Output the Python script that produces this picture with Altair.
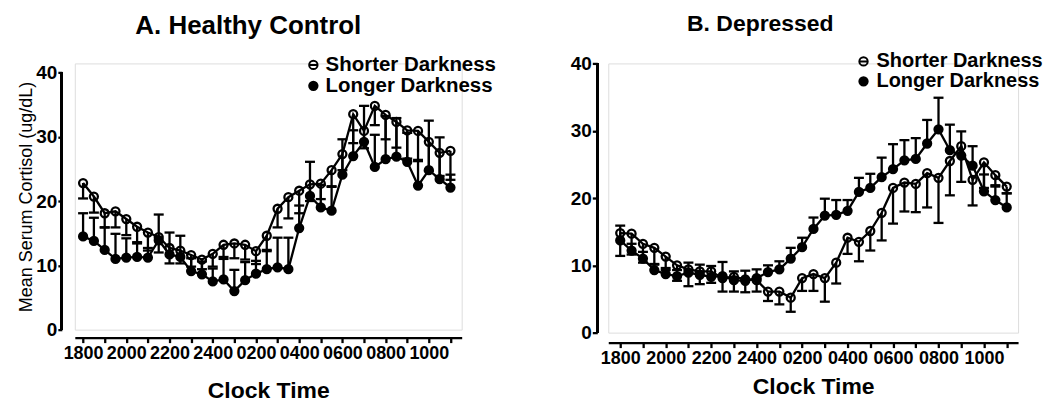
import json
import altair as alt
import pandas as pd

FONT = "Liberation Sans"

# half-hourly sampling times, hours after 18:00
hours = [0.0, 0.5, 1.0, 1.5, 2.0, 2.5, 3.0, 3.5, 4.0, 4.5, 5.0, 5.5, 6.0, 6.5,
         7.0, 7.5, 8.0, 8.5, 9.0, 9.5, 10.0, 10.5, 11.0, 11.5, 12.0, 12.5,
         13.0, 13.5, 14.0, 14.5, 15.0, 15.5, 16.0, 16.5, 17.0]
tick_hours = [0, 1, 2, 3, 4, 5, 6, 7, 8, 9, 10, 11, 12, 13, 14, 15, 16, 17]
tick_labels = ["1800", "2000", "2200", "2400", "0200", "0400", "0600", "0800", "1000"]
y_ticks = [0, 10, 20, 30, 40]
series_names = ["Shorter Darkness", "Longer Darkness"]

# Panel A: Healthy Control
a_short_mean = [22.8, 20.7, 18.1, 18.4, 17.2, 16.0, 15.1, 14.4, 12.7, 12.3, 11.6, 10.9,
                11.8, 13.2, 13.4, 13.2, 12.2, 14.6, 18.8, 20.6, 21.6, 22.6, 22.7, 24.8,
                27.3, 33.5, 30.9, 34.8, 33.4, 32.3, 31.0, 30.9, 29.2, 27.5, 27.8]
a_short_err = [2.4, 2.5, 2.2, 2.5, 2.5, 2.6, 2.8, 2.4, 2.4, 2.0, 1.8, 1.5, 2.0, 2.2,
               2.3, 2.3, 2.0, 2.4, 2.9, 3.3, 3.5, 2.6, 2.4, 2.6, 2.5, 4.5, 2.7, 3.0,
               3.8, 4.0, 4.4, 4.7, 4.5, 3.6, 4.5]
a_long_mean = [14.5, 13.8, 12.4, 11.0, 11.2, 11.3, 11.2, 13.9, 11.7, 11.3, 9.1, 8.6,
               7.5, 7.8, 6.0, 7.7, 8.7, 9.4, 9.7, 9.4, 15.8, 20.8, 19.0, 18.5, 24.1,
               27.0, 29.2, 25.3, 26.5, 26.9, 26.1, 22.4, 24.8, 23.4, 22.1]
a_long_err = [3.6, 3.6, 3.5, 3.9, 3.0, 2.3, 1.5, 4.0, 3.4, 3.3, 2.0, 2.0, 2.0, 3.5,
              3.3, 2.8, 2.0, 3.0, 4.6, 4.9, 3.5, 5.3, 3.5, 3.8, 5.5, 4.0, 5.6, 5.0,
              6.7, 6.0, 4.5, 4.0, 7.7, 6.5, 2.0]

# Panel B: Depressed
b_short_mean = [14.8, 14.7, 13.2, 12.6, 11.3, 10.0, 9.4, 9.1, 9.1, 8.1, 8.3, 7.9, 7.8,
                6.1, 6.1, 5.2, 8.1, 8.7, 8.1, 10.4, 14.1, 13.5, 15.1, 17.8, 21.5, 22.3,
                22.1, 23.7, 23.0, 25.5, 27.7, 22.7, 25.3, 23.4, 21.7]
b_short_err = [3.4, 3.1, 2.8, 2.5, 2.0, 2.3, 2.5, 1.9, 1.7, 2.0, 2.2, 1.9, 1.7, 1.4,
               1.9, 2.1, 1.9, 2.5, 3.5, 3.1, 2.4, 2.9, 2.9, 4.1, 5.3, 4.3, 4.2, 5.1,
               6.7, 5.1, 5.3, 3.8, 3.8, 1.5, 1.0]
b_long_mean = [13.7, 12.2, 11.0, 9.3, 8.7, 8.4, 8.9, 8.6, 8.3, 8.4, 7.8, 7.7, 8.1, 9.0,
               9.4, 11.0, 12.7, 15.4, 17.4, 17.5, 18.1, 20.9, 21.5, 23.1, 24.3, 25.6,
               25.8, 28.1, 30.2, 27.1, 26.3, 24.8, 21.0, 19.7, 18.6]
b_long_err = [2.2, 1.0, 1.0, 0.9, 0.9, 0.9, 1.5, 1.5, 1.6, 2.1, 1.3, 1.5, 1.3, 1.0,
              1.2, 1.6, 1.4, 1.7, 2.5, 2.2, 1.6, 2.1, 2.1, 2.9, 3.7, 3.0, 3.1, 3.5,
              4.7, 3.8, 3.6, 2.9, 2.5, 2.0, 2.1]


def build_df(short_mean, short_err, long_mean, long_err):
    rows = []
    for t, m, e in zip(hours, short_mean, short_err):
        rows.append({"t": t, "mean": m, "end": round(m - e, 2), "series": series_names[0]})
    for t, m, e in zip(hours, long_mean, long_err):
        rows.append({"t": t, "mean": m, "end": round(m + e, 2), "series": series_names[1]})
    return pd.DataFrame(rows)


label_expr = ("datum.value % 2 === 0 ? " + json.dumps(tick_labels) +
              "[datum.value / 2] : ''")

# legend glyph: circle with a horizontal stroke through it (as in the original)
LEGEND_SYMBOL = "M-1,0A1,1,0,1,1,1,0A1,1,0,1,1,-1,0ZM-1,0L1,0"
SW = 2.3


def panel(df, p):
    x_axis = alt.Axis(values=tick_hours, labelExpr=label_expr, title="Clock Time",
                      offset=p["xoff"], domainColor="black", domainWidth=SW,
                      tickColor="black", tickWidth=SW, tickSize=5,
                      labelFont=FONT, labelFontWeight="bold", labelFontSize=18,
                      labelColor="black", labelPadding=2, labelOverlap=False,
                      labelFlush=False, titleFont=FONT, titleFontSize=23,
                      titleFontWeight="bold", titleColor="black",
                      titlePadding=p["xtp"], grid=False)
    y_kw = dict(values=y_ticks, offset=p["yoff"], domain=False,
                tickColor="black", tickWidth=SW, tickSize=p["ytick"], labelFont=FONT,
                labelFontWeight="bold", labelFontSize=19, labelColor="black",
                labelPadding=1, grid=False)
    if p["ytitle"]:
        y_axis = alt.Axis(title=p["ytitle"], titleFont=FONT, titleFontSize=18,
                          titleFontWeight="normal", titleColor="black",
                          titlePadding=0, **y_kw)
    else:
        y_axis = alt.Axis(title=None, **y_kw)
    xs = alt.Scale(domain=p["xdom"], nice=False, zero=False)
    ys = alt.Scale(domain=[0, p["ymax"]], nice=False)
    x = alt.X("t:Q", scale=xs, axis=x_axis)
    base = alt.Chart(df)
    # y axis line drawn from 0 to 40 only
    yline = base.mark_rule(color="black", strokeWidth=SW).encode(
        x=alt.value(-p["yoff"]), y=alt.datum(0, scale=ys, axis=y_axis),
        y2=alt.datum(40))
    line = base.mark_line(color="black", strokeWidth=SW).encode(
        x=x, y=alt.Y("mean:Q", scale=ys, axis=y_axis), detail="series:N")
    stem = base.mark_rule(color="black", strokeWidth=SW).encode(
        x=x, y=alt.Y("mean:Q", scale=ys, axis=y_axis), y2="end:Q")
    cap = base.mark_rule(color="black", strokeWidth=SW, xOffset=-5, x2Offset=5).encode(
        x=x, x2="t:Q", y=alt.Y("end:Q", scale=ys, axis=y_axis))
    pts = base.mark_point(shape="circle", filled=True, stroke="black",
                          strokeWidth=SW, size=64, opacity=1).encode(
        x=x, y=alt.Y("mean:Q", scale=ys, axis=y_axis),
        fill=alt.Fill("series:N",
                      scale=alt.Scale(domain=series_names,
                                      range=["transparent", "black"]),
                      legend=alt.Legend(title=None, orient="none", legendX=p["lx"],
                                        legendY=p["ly"], labelFont=FONT,
                                        labelFontSize=p["lfs"], labelFontWeight="bold",
                                        labelColor="black", labelLimit=400,
                                        symbolSize=70, symbolStrokeColor="black",
                                        symbolStrokeWidth=2,
                                        symbolType=LEGEND_SYMBOL,
                                        rowPadding=0, clipHeight=p["lch"],
                                        labelOffset=p["lo"], padding=0)))
    return alt.layer(yline, line, stem, cap, pts).properties(
        width=p["w"], height=p["h"],
        title=alt.TitleParams(p["title"], font=FONT, fontSize=p["tfs"],
                              fontWeight="bold", color="black", anchor="middle",
                              frame="group", offset=p["toff"], dx=p["tdx"]))


df_a = build_df(a_short_mean, a_short_err, a_long_mean, a_long_err)
df_b = build_df(b_short_mean, b_short_err, b_long_mean, b_long_err)

pa = panel(df_a, dict(title="A. Healthy Control", w=388, h=267, ymax=41.4,
                      xdom=[-0.383, 17.52], ytitle="Mean Serum Cortisol (ug/dL)",
                      yoff=13, ytick=4, xoff=8, xtp=17, tfs=26, toff=17, tdx=-20,
                      lx=229, ly=-7.5, lfs=20.5, lch=18, lo=2))
pb = panel(df_b, dict(title="B. Depressed", w=411, h=270, ymax=40,
                      xdom=[-0.526, 17.5], ytitle=None,
                      yoff=11, ytick=5, xoff=10, xtp=8, tfs=23, toff=16, tdx=-53,
                      lx=246, ly=-12, lfs=20, lch=20, lo=3))

chart = alt.hconcat(pa, pb, spacing=72).resolve_scale(
    fill="independent", x="independent", y="independent"
).resolve_legend(fill="independent").properties(
    padding={"left": 9, "top": 3, "right": 0, "bottom": 0}
).configure_view(stroke=None).configure(background="white")

chart.save("out.html", embed_options={"renderer": "svg", "actions": False})
